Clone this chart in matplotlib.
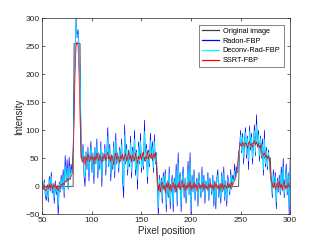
import numpy as np
import matplotlib
matplotlib.use("Agg")
import matplotlib.pyplot as plt

plt.rcParams["font.family"] = ["Liberation Sans", "DejaVu Sans"]

# ground truth (step profile), breakpoints
orig_x = [50, 81, 82, 88, 89, 165, 166, 248, 249, 270, 271, 280, 281, 300]
orig_y = [0, 0, 255, 255, 51, 51, 0, 0, 77, 77, 51, 51, 0, 0]

# Radon-FBP, one value per pixel starting at x=50
radon = [
    8, -5, 12, -18, -25, 3, -28, 18, -8, 25,
    -12, 5, -30, 10, -15, 2, -55, 8, -10, 20,
    -5, 30, -20, 55, 10, 48, -5, 52, 15, 40,
    25, 60,
    160, 240, 300, 265, 280, 250, 200, 90,
    45, 75, 20, 0, 62, 30, 70, 10, 55, 80,
    25, 60, 5, 70, 40, 85, 15, 60, 30, 80,
    0, 60, 45, 75, 20, 65, 105, 35, 75, 10,
    55, 30, 80, 15, 95, 40, 60, 25, 70, 45,
    85, 10, -20, 110, 40, 75, 20, 65, 35, 90,
    15, 70, 45, 100, 20, 65, -5, 80, 40, 95,
    25, 60, 30, 118, 45, 75, 5, 65, 35, 95,
    50, 80, 25, 92, 40, 60,
    10, -55, 20, -10, 15, -30, 25, -5, 30, -45,
    10, -20, 35, -40, 5, 20, -45, 15, -10, 40,
    -35, 60, -5, 25, -45, 10, 35, -20, 15, -30,
    5, 45, -15, 60, -50, 20, -10, 30, -25, 5,
    15, -35, 25, 0, -20, 35, -10, 20, -30, 10,
    -5, 25, -25, 15, 0, -15, 20, -35, 10, -40,
    15, 30, -20, 5, -30, 25, -10, 35, -25, 10,
    -35, 20, 5, -15, 30, -5, 20, 10, 40, 15,
    35, 25, 55,
    70, 100, 60, 95, 40, 85, 105, 50, 90, 30,
    108, 65, 95, 40, 80, 110, 55, 128, 70, 100,
    45, 90,
    60, 85, 20, 100, 35, 70, 30, 65, 45, 20,
    10, -20, 30, 0, 25, -40, 15, -10, 20, -15,
    35, -5, 50, -20, 10, 40, -15, 25, -50, 50,
]

# Deconv-Rad-FBP
deconv = [
    5, -3, 8, -12, -18, 0, -20, 12, -5, 18,
    -8, 3, -20, 6, -10, 0, -35, 5, -8, 14,
    -3, 20, -12, 38, 8, 33, -2, 36, 12, 30,
    22, 50,
    150, 235, 295, 268, 272, 250, 205, 95,
    47, 68, 30, 15, 58, 37, 65, 23, 53, 71,
    33, 57, 19, 65, 43, 75, 26, 57, 37, 71,
    15, 57, 47, 68, 30, 61, 89, 40, 68, 22,
    54, 36, 71, 26, 82, 43, 57, 33, 64, 47,
    75, 22, 0, 92, 43, 68, 30, 61, 40, 78,
    26, 64, 47, 85, 30, 61, 12, 71, 43, 82,
    33, 57, 36, 98, 47, 68, 17, 61, 40, 82,
    51, 71, 33, 80, 43, 57,
    20, -38, 14, -7, 10, -21, 18, -3, 21, -32,
    7, -14, 25, -28, 3, 14, -32, 10, -7, 28,
    -25, 42, -3, 18, -32, 7, 25, -14, 10, -21,
    3, 32, -10, 42, -35, 14, -7, 21, -18, 3,
    10, -25, 18, 0, -14, 25, -7, 14, -21, 7,
    -3, 18, -18, 10, 0, -10, 14, -25, 7, -28,
    10, 21, -14, 3, -21, 18, -7, 25, -18, 7,
    -25, 14, 3, -10, 21, -3, 14, 7, 28, 10,
    30, 28, 50,
    65, 92, 64, 88, 50, 83, 97, 57, 86, 45,
    99, 70, 88, 50, 80, 100, 61, 110, 73, 93,
    54, 86,
    57, 75, 30, 85, 40, 64, 36, 61, 48, 25,
    8, -14, 21, 0, 18, -28, 10, -7, 14, -10,
    25, -3, 35, -14, 7, 28, -10, 18, -35, 30,
]

# SSRT-FBP
ssrt = [
    0, -5, 3, -8, -6, 2, -4, 5, -3, 4,
    -6, 2, -2, 6, -5, 1, -8, 0, -3, 4,
    2, 6, 3, 10, 8, 14, 10, 15, 12, 18,
    22, 60,
    110, 200, 250, 258, 250, 200, 120, 60,
    48, 42, 55, 38, 52, 45, 58, 50, 44, 56,
    48, 53, 40, 55, 47, 60, 52, 45, 57, 49,
    43, 54, 50, 58, 46, 52, 62, 48, 55, 44,
    57, 50, 38, 53, 60, 47, 55, 50, 42, 56,
    49, 58, 46, 53, 59, 45, 51, 63, 48, 55,
    44, 57, 52, 46, 60, 50, 42, 54, 49, 58,
    47, 55, 62, 45, 53, 50, 64, 48, 57, 52,
    60, 46, 58, 53, 61, 40,
    15, -8, 5, -10, 3, 8, -5, 2, -12, 6,
    -3, 7, -6, 4, -9, 2, 8, -4, 5, -10,
    3, -2, 9, -6, 4, 12, -3, 5, -8, 2,
    -5, 6, -2, 10, -7, 3, -4, 8, -3, 5,
    -9, 2, 6, -5, 3, -2, 7, -6, 4, -3,
    1, -8, 5, -2, 6, -4, 3, -7, 8, -1,
    4, -5, 2, -8, 6, -3, 5, -6, 3, 0,
    -4, 7, -2, 5, -3, 8, 2, 6, 12, 18,
    30, 42, 60,
    70, 76, 72, 79, 74, 71, 78, 75, 68, 77,
    80, 73, 76, 70, 79, 82, 74, 80, 72, 76,
    69, 74,
    62, 58, 55, 60, 52, 56, 50, 55, 48, 35,
    10, 5, -3, 8, -6, 2, 7, -4, 10, -2,
    5, -8, 3, 12, -5, 2, -3, 6, -1, 2,
]

x_ticks = [50, 100, 150, 200, 250, 300]
y_ticks = [-50, 0, 50, 100, 150, 200, 250, 300]

grey = "#262626"

fig = plt.figure(figsize=(3.21, 2.41), dpi=100)
ax = fig.add_axes([0.132, 0.110, 0.772, 0.814])

ax.plot(orig_x, orig_y, color="#404040", lw=0.6, label="Original image")
ax.plot(np.arange(50, 50 + len(radon)), radon, color="#0000ff", lw=0.5, label="Radon-FBP")
ax.plot(np.arange(50, 50 + len(deconv)), deconv, color="#00ffff", lw=0.5, label="Deconv-Rad-FBP")
ax.plot(np.arange(50, 50 + len(ssrt)), ssrt, color="#ff0000", lw=0.5, label="SSRT-FBP")

ax.set_xlim(50, 300)
ax.set_ylim(-50, 300)
ax.set_xticks(x_ticks)
ax.set_yticks(y_ticks)
ax.tick_params(direction="in", length=2.5, width=0.5, labelsize=6, colors=grey,
               top=True, right=True, pad=2)
for s in ax.spines.values():
    s.set_linewidth(0.5)
    s.set_color(grey)

ax.set_xlabel("Pixel position", fontsize=7, color=grey, labelpad=1)
ax.set_ylabel("Intensity", fontsize=7, color=grey, labelpad=1)

leg = ax.legend(loc="upper right", fontsize=5.3, frameon=True, fancybox=False,
                edgecolor=grey, handlelength=2.4, borderpad=0.4, labelspacing=0.35,
                borderaxespad=0.9, handletextpad=0.5)
leg.get_frame().set_linewidth(0.5)
for h in leg.get_lines():
    h.set_linewidth(0.9)

fig.savefig("out.png", dpi=100)
